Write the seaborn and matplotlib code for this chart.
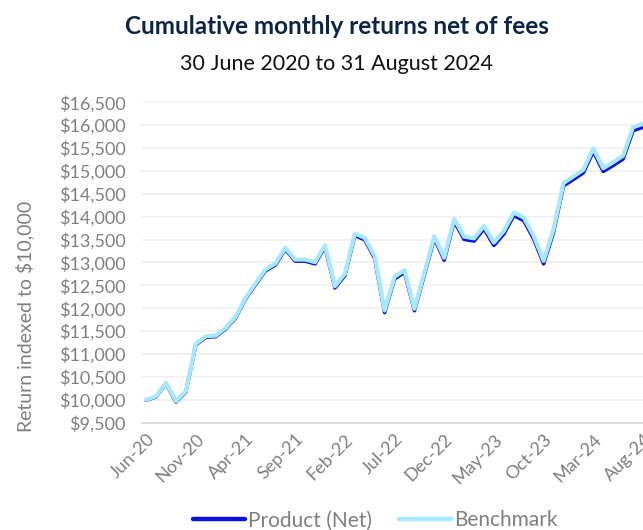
import pandas as pd
import numpy as np
import matplotlib
matplotlib.use("Agg")
import matplotlib.pyplot as plt
from matplotlib.lines import Line2D
import seaborn as sns

# data (monthly, Jun-20 .. Aug-24)
months = pd.date_range("2020-06-30", "2024-08-31", freq="ME")
benchmark = [10000, 10075, 10370, 9968, 10186, 11222, 11388, 11403, 11571, 11812,
             12226, 12540, 12846, 12977, 13320, 13064, 13064, 13006, 13377, 12482,
             12753, 13633, 13538, 13138, 11952, 12688, 12832, 11990, 12776, 13575,
             13104, 13956, 13565, 13528, 13797, 13434, 13690, 14091, 13982, 13582,
             13035, 13728, 14735, 14880, 15026, 15494, 15058, 15190, 15334, 15956,
             16028]
product = [9990, 10062, 10355, 9950, 10168, 11200, 11365, 11380, 11548, 11788,
           12200, 12512, 12815, 12945, 13288, 13030, 13030, 12970, 13340, 12445,
           12712, 13592, 13495, 13095, 11905, 12640, 12785, 11945, 12728, 13525,
           13050, 13900, 13505, 13468, 13735, 13372, 13625, 14025, 13915, 13515,
           12970, 13662, 14675, 14815, 14960, 15425, 14990, 15120, 15262, 15880,
           15955]
tick_labels = ["Jun-20", "Nov-20", "Apr-21", "Sep-21", "Feb-22", "Jul-22",
               "Dec-22", "May-23", "Oct-23", "Mar-24", "Aug-24"]

df = pd.DataFrame({"idx": np.arange(len(months)), "Product (Net)": product,
                   "Benchmark": benchmark})

sns.set_style("white")
plt.rcParams["font.family"] = ["Lato", "DejaVu Sans"]
grey = "#7f7f7f"
dark_blue = "#0a12dc"
light_blue = "#a6e9ff"

fig = plt.figure(figsize=(6.43, 5.30), dpi=100)
ax = fig.add_axes([0.221, 0.2025, 0.779, 0.6045])

# product underneath, benchmark drawn on top (as in the reference)
sns.lineplot(data=df, x="idx", y="Product (Net)", color=dark_blue, lw=2.6,
             ax=ax, zorder=3)
sns.lineplot(data=df, x="idx", y="Benchmark", color=light_blue, lw=3.0,
             ax=ax, zorder=4)

yt = np.arange(9500, 16501, 500)
ax.set_ylim(9500, 16500)
ax.set_yticks(yt)
ax.set_yticklabels([f"${v:,.0f}" for v in yt])
ax.set_xlim(-0.4, 50)
ax.set_xticks(np.arange(0, 51, 5))
ax.set_xticklabels(tick_labels, rotation=45, ha="right", rotation_mode="anchor")
ax.tick_params(axis="both", labelsize=13, labelcolor=grey, length=0)
ax.tick_params(axis="y", pad=12)
ax.tick_params(axis="x", pad=6)
ax.yaxis.grid(True, color="#efefef", lw=1.2)
ax.set_axisbelow(True)
for s in ["top", "right", "left"]:
    ax.spines[s].set_visible(False)
ax.spines["bottom"].set_color("#d9d9d9")
ax.spines["bottom"].set_linewidth(1.2)
ax.set_xlabel("")
ax.set_ylabel("")

fig.text(0.039, 0.404, "Return indexed to $10,000", rotation=90, ha="center",
         va="center", fontsize=14, color=grey)
fig.text(0.524, 0.950, "Cumulative monthly returns net of fees", ha="center",
         va="center", fontsize=17.5, fontweight="bold", color="#0d2444")
fig.text(0.524, 0.880, "30 June 2020 to 31 August 2024", ha="center",
         va="center", fontsize=15.5, color="#111111")

handles = [Line2D([], [], color=dark_blue, lw=3.2),
           Line2D([], [], color=light_blue, lw=3.2)]
leg = fig.legend(handles, ["Product (Net)", "Benchmark"], loc="center",
                 bbox_to_anchor=(0.584, 0.018), ncol=2, frameon=False,
                 fontsize=15, handlelength=2.5, handletextpad=0.15,
                 columnspacing=1.3, borderpad=0)
for t in leg.get_texts():
    t.set_color(grey)

fig.savefig("out.png", dpi=100)
